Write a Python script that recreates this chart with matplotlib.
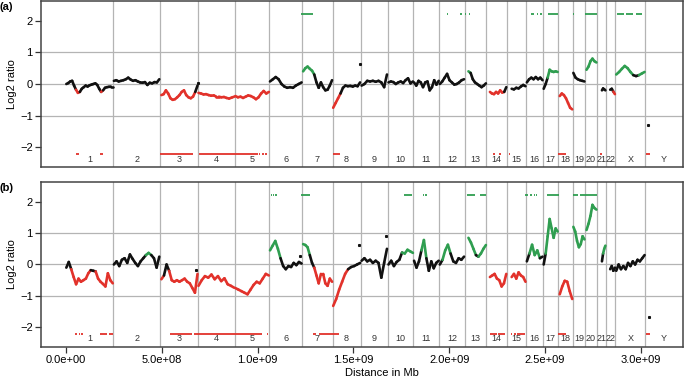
import matplotlib.pyplot as plt
import numpy as np
from matplotlib.collections import LineCollection

plt.rcParams['font.family'] = ['Liberation Sans', 'DejaVu Sans']

# chromosome layout (Mb)
chrom_names = [str(i) for i in range(1, 23)] + ['X', 'Y']
chrom_len = [247.2, 242.9, 199.5, 191.3, 180.9, 170.9, 158.8, 146.3, 140.3, 135.4,
             134.5, 132.3, 114.1, 106.4, 100.3, 88.8, 78.8, 76.1, 63.8, 62.4,
             46.9, 49.7, 154.9, 57.8]
# where the probes start inside each chromosome (Mb from its start)
data_lo = [2, 3, 8, 2, 3, 3, 5, 3, 5, 5, 3, 3, 20, 18, 25, 4, 3, 8, 3, 8, 26, 22, 4, 0]

# smoothed log2 ratios, read along each chromosome -- panel (a)
ratio_a = [
    [0.0, 0.03, 0.08, 0.1, -0.05, -0.18, -0.28, -0.25, -0.15, -0.1, -0.05, -0.08, -0.04,
     -0.02, 0.0, 0.02, -0.03, -0.15, -0.25, -0.2, -0.12, -0.1, -0.09, -0.08, -0.08],
    [0.1, 0.12, 0.08, 0.1, 0.12, 0.15, 0.2, 0.14, 0.1, 0.12, 0.08, 0.05, 0.04, 0.06, -0.03,
     0.04, 0.02, 0.06, 0.05, 0.15],
    [-0.35, -0.32, -0.2, -0.3, -0.45, -0.5, -0.48, -0.42, -0.35, -0.25, -0.2, -0.35, -0.42,
     -0.45, -0.4, -0.25, -0.05],
    [-0.28, -0.3, -0.33, -0.32, -0.35, -0.37, -0.36, -0.4, -0.4, -0.42, -0.41, -0.44, -0.46,
     -0.43, -0.4],
    [-0.38, -0.42, -0.4, -0.44, -0.4, -0.36, -0.38, -0.42, -0.48, -0.42, -0.3, -0.22, -0.3, -0.25],
    [0.08, 0.15, 0.22, 0.15, 0.0, -0.08, -0.12, -0.1, -0.12, -0.05, 0.0, 0.05],
    [0.4, 0.5, 0.55, 0.48, 0.42, 0.3, 0.05, -0.12, 0.05, -0.1, -0.2, -0.18, -0.05, 0.12],
    [-0.75, -0.6, -0.45, -0.3, -0.12, -0.05, -0.07, -0.06, -0.08, -0.05, -0.07, 0.05],
    [-0.05, 0.0, 0.1, 0.08, 0.1, 0.07, 0.1, 0.05, -0.1, 0.3],
    [0.05, 0.08, 0.06, 0.0, 0.05, 0.08, 0.03, 0.12, 0.18, 0.02, 0.08],
    [0.05, -0.05, 0.1, 0.05, -0.1, 0.05, 0.08, -0.2, -0.1, 0.12, -0.02, 0.1],
    [0.0, 0.08, 0.2, 0.32, 0.12, 0.05, -0.02, 0.0, 0.05, 0.12, 0.15],
    [0.4, 0.35, 0.15, 0.05, 0.0, -0.05, -0.1, -0.05, 0.02],
    [-0.25, -0.3, -0.32, -0.25, -0.3, -0.2, -0.27, -0.25, -0.1],
    [-0.15, -0.17, -0.12, -0.14, -0.08, -0.03, -0.07],
    [0.05, 0.15, 0.2, 0.15, 0.22, 0.15, 0.2, 0.12],
    [-0.15, 0.0, 0.2, 0.45, 0.4, 0.38, 0.4, 0.38],
    [-0.38, -0.3, -0.35, -0.45, -0.6, -0.75, -0.8],
    [0.35, 0.2, 0.15, 0.12, 0.1, 0.08],
    [0.45, 0.55, 0.72, 0.8, 0.72, 0.68],
    [-0.2, -0.14, -0.17, -0.2],
    [-0.18, -0.15, -0.24, -0.32],
    [0.3, 0.38, 0.48, 0.57, 0.5, 0.38, 0.28, 0.25, 0.28, 0.33, 0.38],
    [],
]

# panel (b)
ratio_b = [
    [-0.1, 0.08, -0.15, -0.4, -0.63, -0.45, -0.55, -0.5, -0.45, -0.28, -0.18, -0.2, -0.22,
     -0.45, -0.55, -0.62, -0.7, -0.28, -0.5, -0.6],
    [0.0, 0.1, -0.05, 0.15, 0.2, 0.05, 0.32, 0.18, 0.05, -0.05, 0.1, 0.2, 0.3, 0.37, 0.3,
     0.2, -0.1, 0.25],
    [-0.47, -0.35, 0.0, -0.2, -0.5, -0.55, -0.5, -0.55, -0.5, -0.45, -0.55, -0.6, -0.75, -0.9, -0.3],
    [-0.68, -0.5, -0.37, -0.42, -0.32, -0.47, -0.37, -0.53, -0.44, -0.63, -0.68, -0.74],
    [-0.75, -0.8, -0.85, -0.9, -0.95, -0.8, -0.65, -0.55, -0.6, -0.45, -0.3, -0.35],
    [0.45, 0.6, 0.75, 0.5, 0.2, -0.05, -0.15, -0.05, -0.08, 0.05, -0.02, 0.08, 0.03],
    [0.65, 0.62, 0.55, 0.3, 0.05, -0.1, -0.35, -0.6, -0.3, -0.3, -0.6, -0.68, -0.45, -0.55],
    [-1.32, -1.1, -0.8, -0.55, -0.3, -0.15, -0.08, -0.05, 0.0, 0.05],
    [0.12, 0.2, 0.1, 0.15, 0.05, 0.12, 0.05, -0.42, 0.05, 0.5],
    [0.0, 0.12, -0.05, 0.08, 0.15, 0.38, 0.35, 0.47, 0.42, 0.37],
    [0.12, -0.1, 0.1, 0.45, 0.78, 0.2, -0.2, 0.1, -0.12, 0.05, 0.12],
    [0.0, 0.15, 0.45, 0.63, 0.35, 0.1, 0.05, 0.2, 0.15, 0.25],
    [0.85, 0.7, 0.5, 0.3, 0.25, 0.35, 0.5, 0.62],
    [-0.4, -0.35, -0.3, -0.45, -0.5, -0.7, -0.6, -0.3],
    [-0.4, -0.3, -0.45, -0.25, -0.35, -0.4, -0.55],
    [0.1, 0.35, 0.63, 0.3, 0.45, 0.2, 0.25],
    [0.0, 0.35, 0.9, 1.45, 1.15, 0.85, 1.15, 1.05],
    [-0.95, -0.7, -0.52, -0.55, -0.85, -1.1],
    [1.2, 1.05, 0.75, 0.55, 0.65, 0.9, 0.8],
    [1.1, 1.3, 1.55, 1.9, 1.8, 1.75],
    [0.1, 0.35, 0.5, 0.6],
    [-0.15, -0.05, -0.2, -0.1],
    [-0.2, 0.0, -0.15, -0.05, -0.15, 0.05, -0.05, 0.1, 0.0, 0.15, 0.1, 0.2, 0.3],
    [],
]

# isolated probes
single_a_x = [688, 1532, 3035]
single_a_y = [0.02, 0.63, -1.3]
single_b_x = [679, 1219, 1527, 1672, 3041]
single_b_y = [-0.16, 0.28, 0.61, 0.9, -1.67]

# called segments (Mb): gains drawn at +2.2, losses at -2.2
gain_a = [(1228, 1290), (1668, 1671), (1990, 1995), (2058, 2068), (2080, 2086), (2102, 2110),
          (2428, 2445), (2456, 2462), (2473, 2485), (2514, 2567), (2648, 2652), (2708, 2769),
          (2877, 2912), (2924, 2959), (2973, 3008)]
loss_a = [(52, 70), (178, 192), (491, 662), (695, 1000), (1006, 1014), (1024, 1032),
          (1040, 1048), (1391, 1428), (2227, 2240), (2259, 2271), (2314, 2318),
          (2567, 2612), (2786, 2799), (3029, 3046)]
gain_b = [(1069, 1076), (1082, 1086), (1092, 1100), (1228, 1271), (1766, 1806), (1863, 1869),
          (1876, 1884), (2093, 2132), (2163, 2194), (2398, 2410), (2420, 2432), (2445, 2450),
          (2455, 2459), (2511, 2572), (2647, 2671), (2685, 2772)]
loss_b = [(47, 60), (66, 72), (80, 89), (178, 213), (225, 244), (490, 493), (543, 660),
          (668, 1022), (1048, 1054), (1290, 1304), (1318, 1425), (2212, 2250), (2255, 2290),
          (2320, 2330), (2336, 2346), (2352, 2398), (2567, 2612), (3029, 3046)]

xtick_pos = [0, 500, 1000, 1500, 2000, 2500, 3000]
xtick_lab = ['0.0e+00', '5.0e+08', '1.0e+09', '1.5e+09', '2.0e+09', '2.5e+09', '3.0e+09']

BLACK = '#111111'
RED = '#e2322b'
GREEN = '#2f9e50'
GRID = '#b4b4b4'

chrom_end = np.cumsum(chrom_len)
chrom_start = chrom_end - np.array(chrom_len)
XMIN, XMAX = -130, 3220


def seg_color(v):
    if v > 0.28:
        return GREEN
    if v < -0.22:
        return RED
    return BLACK


def draw_panel(ax, ratios, sx, sy, gains, losses):
    for e in chrom_end[:-1]:
        ax.axvline(e, color=GRID, lw=0.9, zorder=1)
    for h in (-1, 0, 1):
        ax.axhline(h, color=GRID, lw=0.9, zorder=1)

    for i, vals in enumerate(ratios):
        if len(vals) < 2:
            continue
        x = np.linspace(chrom_start[i] + data_lo[i], chrom_end[i] - 3, len(vals))
        y = np.array(vals)
        pts = np.column_stack([x, y])
        segs = np.stack([pts[:-1], pts[1:]], axis=1)
        cols = [seg_color(m) for m in (y[:-1] + y[1:]) / 2]
        ax.add_collection(LineCollection(segs, colors=cols, linewidths=1.9,
                                         capstyle='round', zorder=3))

    ax.plot(sx, sy, 's', color=BLACK, ms=1.2, zorder=3)

    for a, b in gains:
        ax.plot([a, b], [2.2, 2.2], color=GREEN, lw=1.3, solid_capstyle='butt', zorder=3)
    for a, b in losses:
        ax.plot([a, b], [-2.2, -2.2], color=RED, lw=1.3, solid_capstyle='butt', zorder=3)

    for i, name in enumerate(chrom_names):
        if name == 'Y':
            xm = (chrom_start[i] + XMAX) / 2
        else:
            xm = (chrom_start[i] + chrom_end[i]) / 2
        ax.text(xm, -2.37, name, ha='center', va='center', fontsize=6.5, color='#333333')

    ax.set_xlim(XMIN, XMAX)
    ax.set_ylim(-2.62, 2.62)
    ax.set_yticks([-2, -1, 0, 1, 2])
    ax.set_yticklabels(['\u22122', '\u22121', '0', '1', '2'])
    ax.set_ylabel('Log2 ratio', fontsize=8)
    ax.yaxis.set_label_coords(-0.038, 0.5)
    ax.tick_params(axis='both', labelsize=8, length=4, width=0.9, pad=2, color='#333333')
    for s in ax.spines.values():
        s.set_color('#444444')
        s.set_linewidth(1.1)


fig = plt.figure(figsize=(6.85, 3.82), dpi=100)
ax_a = fig.add_axes([0.0599, 0.5628, 0.9372, 0.4346])
ax_b = fig.add_axes([0.0599, 0.0924, 0.9372, 0.4304])

draw_panel(ax_a, ratio_a, single_a_x, single_a_y, gain_a, loss_a)
draw_panel(ax_b, ratio_b, single_b_x, single_b_y, gain_b, loss_b)

ax_a.set_xticks([])
ax_b.set_xticks(xtick_pos)
ax_b.set_xticklabels(xtick_lab)

fig.text(0.0095, 0.981, '(a)', fontsize=8, fontweight='bold', ha='center', va='center')
fig.text(0.0102, 0.509, '(b)', fontsize=8, fontweight='bold', ha='center', va='center')
fig.text(0.558, 0.011, 'Distance in Mb', fontsize=8, ha='center', va='bottom')

plt.savefig('out.png', dpi=100)
